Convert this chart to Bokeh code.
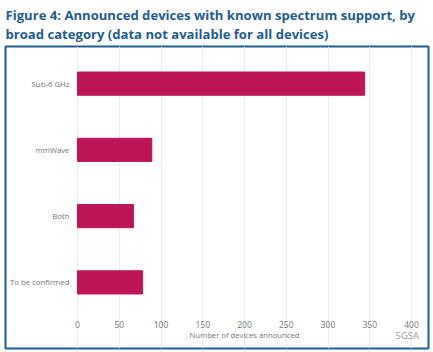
from bokeh.plotting import figure
from bokeh.models import Range1d, Label, FixedTicker, Title
from bokeh.embed import file_html
from bokeh.resources import INLINE

categories = ["Sub-6 GHz", "mmWave", "Both", "To be confirmed"]
devices = [344, 89, 67, 78]
x_ticks = [0, 50, 100, 150, 200, 250, 300, 350, 400]
title_lines = ["Figure 4: Announced devices with known spectrum support, by",
               "broad category (data not available for all devices)"]
x_label = "Number of devices announced"
watermark = "5GSA"
positions = list(range(len(categories)))

W, H = 433, 352
FONT = "Open Sans"
BLUE = "#1f5c8f"
GREY = "#757575"

# picture pixels: outer box, and where the value 0 / 400 and the bands lie
BOX_L, BOX_R, BOX_T, BOX_B = 5, 428, 46, 348
X0_PX, X400_PX = 77, 411
BAND_T, BAND_B = 50, 315
ux = (X400_PX - X0_PX) / 400
uy = (BAND_B - BAND_T) / len(categories)
row_top = -0.5

p = figure(width=W, height=H, output_backend="svg", toolbar_location=None,
           x_range=Range1d((BOX_L - X0_PX) / ux, (BOX_R - X0_PX) / ux),
           y_range=Range1d(row_top + (BOX_B - BAND_T) / uy, row_top + (BOX_T - BAND_T) / uy),
           min_border_left=BOX_L, min_border_right=W - BOX_R,
           min_border_top=BOX_T, min_border_bottom=H - BOX_B,
           margin=(0, 0, 0, 0))
p.outline_line_color = BLUE
p.outline_line_width = 2
p.background_fill_color = "white"
p.border_fill_color = "white"

p.hbar(y=positions, right=devices, left=0, height=0.35, color="#bc1558")

p.ygrid.visible = False
p.xgrid.grid_line_color = "#ececec"
p.xgrid.grid_line_width = 1
p.xgrid.bounds = (-0.5, 3.5)
p.xgrid.ticker = FixedTicker(ticks=x_ticks)
p.xaxis.ticker = FixedTicker(ticks=x_ticks)
p.xaxis.bounds = (0, 400)
p.yaxis.ticker = FixedTicker(ticks=positions)
p.yaxis.major_label_overrides = dict(zip(positions, categories))
p.xaxis.fixed_location = 3.5
p.yaxis.fixed_location = 0
p.xaxis.axis_line_color = None
p.yaxis.axis_line_color = None
p.xaxis.major_tick_line_color = None
p.yaxis.major_tick_line_color = None
p.xaxis.minor_tick_line_color = None
p.yaxis.minor_tick_line_color = None
p.xaxis.major_tick_out = 0
p.yaxis.major_tick_out = 0
p.xaxis.major_label_text_font = FONT
p.yaxis.major_label_text_font = FONT
p.xaxis.major_label_text_font_size = "8.5px"
p.yaxis.major_label_text_font_size = "7.8px"
p.xaxis.major_label_text_color = GREY
p.yaxis.major_label_text_color = GREY
p.xaxis.major_label_standoff = 5
p.yaxis.major_label_standoff = 8
p.xaxis.axis_label = x_label
p.xaxis.axis_label_text_font = FONT
p.xaxis.axis_label_text_font_size = "7.7px"
p.xaxis.axis_label_text_font_style = "normal"
p.xaxis.axis_label_text_color = GREY
p.xaxis.axis_label_standoff = -1

p.add_layout(Title(text="\n".join(title_lines), align="left", text_font=FONT,
                   text_font_style="bold", text_font_size="13.1px", text_color=BLUE,
                   text_line_height=1.06, offset=0, standoff=6), "above")

p.add_layout(Label(x=390, y=13.5, x_units="screen", y_units="screen", text=watermark,
                   text_font=FONT, text_font_size="9.5px", text_color="#9a9a9a",
                   text_baseline="middle"))

open("out.html", "w").write(file_html(p, INLINE))
